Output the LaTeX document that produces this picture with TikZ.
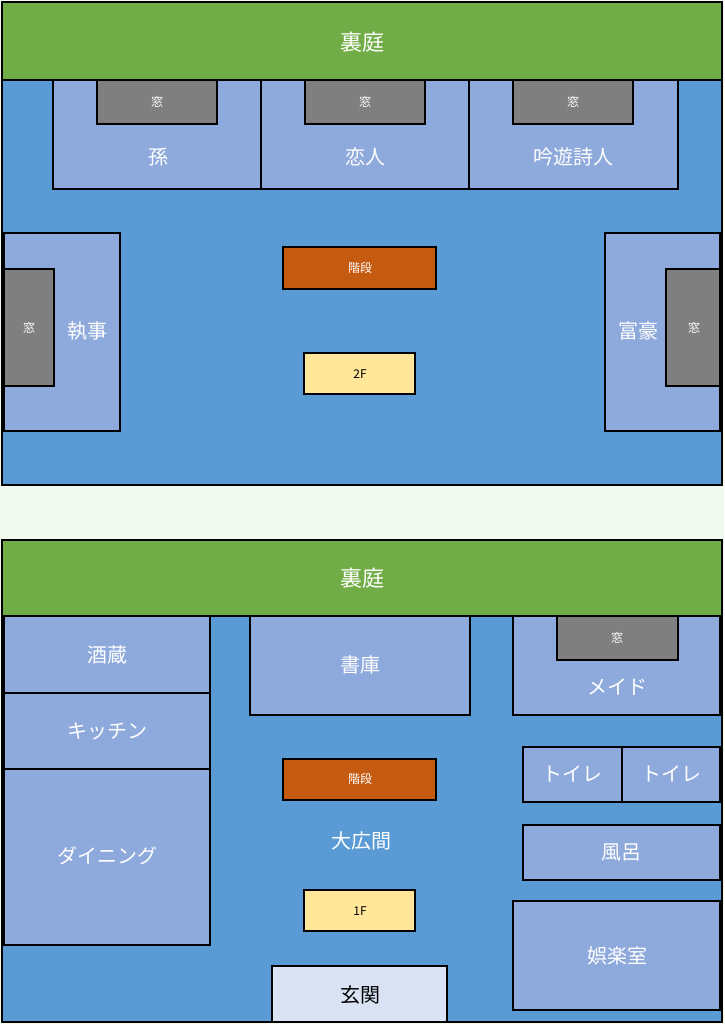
\documentclass[tikz,border=0pt]{standalone}
\usepackage{fontspec}
\newfontfamily\cjk{Noto Sans CJK JP}
\definecolor{bg}{HTML}{F2FAF0}
\definecolor{grn}{HTML}{70AD47}
\definecolor{blu}{HTML}{5B9BD5}
\definecolor{room}{HTML}{8EA9DB}
\definecolor{win}{HTML}{7F7F7F}
\definecolor{stair}{HTML}{C55A11}
\definecolor{flr}{HTML}{FFE699}
\definecolor{ent}{HTML}{DAE3F3}
\tikzset{
 wall/.style={draw=black,line width=2.5pt},
 big/.style={font=\cjk\fontsize{22}{24}\selectfont,text=white},
 med/.style={font=\cjk\fontsize{20}{22}\selectfont,text=white},
 small/.style={font=\cjk\fontsize{12}{14}\selectfont,text=white},
 blk/.style={font=\cjk\fontsize{12}{14}\selectfont,text=black},
}
\begin{document}
\begin{tikzpicture}[x=1pt,y=-1pt]
\useasboundingbox (0,0) rectangle (724,1024);
\fill[bg] (0,0) rectangle (724,1024);
% 2F
\draw[wall,fill=blu] (2,80) rectangle (722,485);
\draw[wall,fill=grn] (2,2) rectangle (722,80);
\node[big] (y2) at (362,42) {裏庭};
\draw[wall,fill=room] (53,80) rectangle (261,189);
\draw[wall,fill=room] (261,80) rectangle (469,189);
\draw[wall,fill=room] (469,80) rectangle (678,189);
\draw[wall,fill=win] (97,80) rectangle (217,124);
\draw[wall,fill=win] (305,80) rectangle (425,124);
\draw[wall,fill=win] (513,80) rectangle (633,124);
\node[small] (w1) at (157,102) {窓};
\node[small] (w2) at (365,102) {窓};
\node[small] (w3) at (573,102) {窓};
\node[med] (r1) at (158,157) {孫};
\node[med] (r2) at (365,157) {恋人};
\node[med] (r3) at (573,157) {吟遊詩人};
\draw[wall,fill=stair] (283,247) rectangle (436,289);
\node[small] (s2) at (360,268) {階段};
\draw[wall,fill=flr] (304,353) rectangle (415,394);
\node[blk] (f2) at (360,374) {2F};
\draw[wall,fill=room] (4,233) rectangle (120,431);
\draw[wall,fill=win] (4,269) rectangle (54,386);
\node[small] (w4) at (29,328) {窓};
\node[med] (r4) at (87,331) {執事};
\draw[wall,fill=room] (605,233) rectangle (720,431);
\draw[wall,fill=win] (666,269) rectangle (720,386);
\node[small] (w5) at (694,328) {窓};
\node[med] (r5) at (638,331) {富豪};
% 1F
\draw[wall,fill=blu] (2,616) rectangle (722,1022);
\draw[wall,fill=grn] (2,540) rectangle (722,616);
\node[big] (y1) at (362,578) {裏庭};
\draw[wall,fill=room] (4,616) rectangle (210,693);
\node[med] (a1) at (107,655) {酒蔵};
\draw[wall,fill=room] (4,693) rectangle (210,769);
\node[med] (a2) at (107,731) {キッチン};
\draw[wall,fill=room] (4,769) rectangle (210,945);
\node[med] (a3) at (107,856) {ダイニング};
\draw[wall,fill=room] (250,616) rectangle (470,715);
\node[med] (a4) at (360,665) {書庫};
\draw[wall,fill=room] (513,616) rectangle (720,715);
\draw[wall,fill=win] (557,616) rectangle (678,660);
\node[small] (w6) at (617,638) {窓};
\node[med] (a5) at (617,687) {メイド};
\draw[wall,fill=stair] (283,759) rectangle (436,800);
\node[small] (s1) at (360,779) {階段};
\node[med] (hall) at (361,841) {大広間};
\draw[wall,fill=flr] (304,890) rectangle (415,931);
\node[blk] (f1) at (360,911) {1F};
\draw[wall,fill=room] (523,747) rectangle (622,802);
\node[med] (t1) at (572,774) {トイレ};
\draw[wall,fill=room] (622,747) rectangle (720,802);
\node[med] (t2) at (671,774) {トイレ};
\draw[wall,fill=room] (523,825) rectangle (720,880);
\node[med] (a6) at (621,852) {風呂};
\draw[wall,fill=room] (513,901) rectangle (720,1010);
\node[med] (a7) at (617,956) {娯楽室};
\draw[wall,fill=ent] (272,966) rectangle (447,1022);
\node[med,text=black] (a8) at (360,995) {玄関};
\end{tikzpicture}
\end{document}
